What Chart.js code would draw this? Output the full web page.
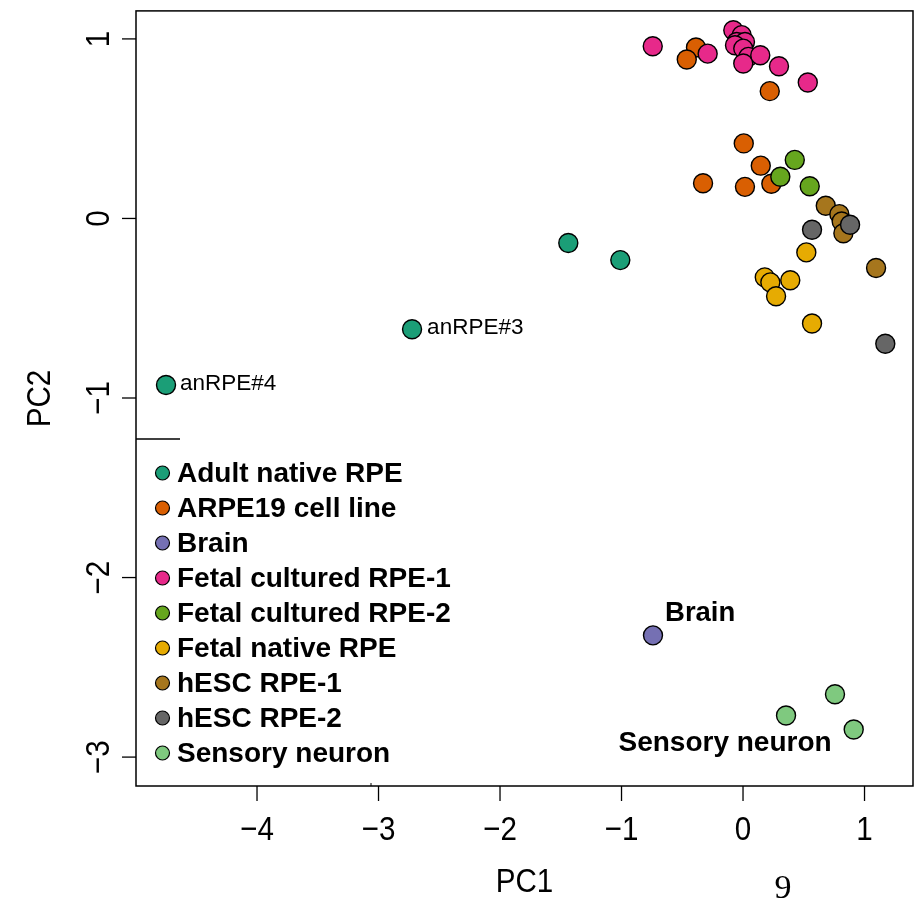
<!DOCTYPE html>
<html>
<head>
<meta charset="utf-8">
<script src="https://cdn.jsdelivr.net/npm/chart.js@4.4.1/dist/chart.umd.min.js"></script>
<style>
  html, body { margin: 0; padding: 0; background: #ffffff; }
  #wrap { width: 924px; height: 913px; }
</style>
</head>
<body>
<div id="wrap"><canvas id="c" width="924" height="913"></canvas></div>
<script>
// ---------- data ----------
const groupNames = ['Adult native RPE', 'ARPE19 cell line', 'Brain', 'Fetal cultured RPE-1',
  'Fetal cultured RPE-2', 'Fetal native RPE', 'hESC RPE-1', 'hESC RPE-2', 'Sensory neuron'];

const adultPC1 = [-1.438, -1.010, -2.724, -4.749];
const adultPC2 = [-0.137, -0.232, -0.617, -0.928];

const arpePC1 = [-0.387, -0.463, 0.220, 0.006, 0.146, -0.329, 0.016, 0.233];
const arpePC2 = [0.952, 0.885, 0.709, 0.418, 0.294, 0.196, 0.176, 0.193];

const brainPC1 = [-0.741];
const brainPC2 = [-2.322];

const fetalCult1PC1 = [-0.743, -0.291, -0.080, -0.011, -0.052, 0.016, -0.066, 0.002, 0.044, 0.002, 0.142, 0.296, 0.533];
const fetalCult1PC2 = [0.959, 0.918, 1.048, 1.021, 0.983, 0.983, 0.965, 0.946, 0.900, 0.863, 0.909, 0.848, 0.757];

const fetalCult2PC1 = [0.426, 0.307, 0.549];
const fetalCult2PC2 = [0.326, 0.232, 0.179];

const fetalNativePC1 = [0.521, 0.179, 0.225, 0.389, 0.272, 0.568];
const fetalNativePC2 = [-0.189, -0.328, -0.356, -0.344, -0.433, -0.585];

const hesc1PC1 = [0.681, 0.793, 0.812, 0.826, 1.095];
const hesc1PC2 = [0.071, 0.024, -0.017, -0.082, -0.276];

const hesc2PC1 = [0.568, 0.881, 1.171];
const hesc2PC2 = [-0.063, -0.035, -0.698];

const sensoryPC1 = [0.757, 0.354, 0.911];
const sensoryPC2 = [-2.650, -2.768, -2.846];

const xTicks = [-4, -3, -2, -1, 0, 1];
const yTicks = [1, 0, -1, -2, -3];

// point annotations (text, anchor in data units)
const noteText = ['anRPE#3', 'anRPE#4', 'Brain', 'Sensory neuron'];
const notePC1 = [-2.60, -4.634, -0.642, -0.148];
const notePC2 = [-0.611, -0.922, -2.20, -2.922];

// ---------- styles ----------
const groupColors = ['#1B9E77', '#D95F02', '#7570B3', '#E7298A', '#66A61E', '#E6AB02', '#A6761D', '#666666', '#7FC97F'];
const noteStyle = [
  { font: '22.5px "Liberation Sans", Arial, sans-serif', align: 'left' },
  { font: '22.5px "Liberation Sans", Arial, sans-serif', align: 'left' },
  { font: 'bold 27.5px "Liberation Sans", Arial, sans-serif', align: 'left' },
  { font: 'bold 28px "Liberation Sans", Arial, sans-serif', align: 'center' }
];

const xs = [adultPC1, arpePC1, brainPC1, fetalCult1PC1, fetalCult2PC1, fetalNativePC1, hesc1PC1, hesc2PC1, sensoryPC1];
const ys = [adultPC2, arpePC2, brainPC2, fetalCult1PC2, fetalCult2PC2, fetalNativePC2, hesc1PC2, hesc2PC2, sensoryPC2];

const datasets = groupNames.map((name, i) => ({
  label: name,
  data: xs[i].map((x, j) => ({ x: x, y: ys[i][j] })),
  backgroundColor: groupColors[i],
  borderColor: '#000000',
  borderWidth: 1.4,
  pointRadius: 9.5,
  pointHoverRadius: 9.5,
  order: -i
}));

const MINUS = '\u2212';
const fmt = v => (v < 0 ? MINUS + Math.abs(v) : String(v));
const AXIS_FONT = '34px "Liberation Sans", Arial, sans-serif';
const SQUEEZE = 0.87;

function narrowText(ctx, t, x, y, rot) {
  ctx.save();
  ctx.translate(x, y);
  if (rot) ctx.rotate(rot);
  ctx.scale(SQUEEZE, 1);
  ctx.fillText(t, 0, 0);
  ctx.restore();
}

const decor = {
  id: 'decor',
  afterDraw(chart) {
    const ctx = chart.ctx;
    const sx = chart.scales.x, sy = chart.scales.y;
    const a = chart.chartArea;
    ctx.save();
    ctx.strokeStyle = '#000';
    ctx.fillStyle = '#000';
    ctx.lineWidth = 1.5;
    // frame
    ctx.strokeRect(a.left, a.top, a.right - a.left, a.bottom - a.top);
    // small artefact mark on bottom frame
    ctx.lineWidth = 1;
    ctx.beginPath(); ctx.moveTo(371, a.bottom); ctx.lineTo(371, a.bottom - 3); ctx.stroke();
    // legend remnant line
    ctx.lineWidth = 1.3;
    ctx.beginPath(); ctx.moveTo(a.left, 439); ctx.lineTo(180, 439); ctx.stroke();

    // x axis
    ctx.lineWidth = 1.3;
    ctx.font = AXIS_FONT;
    ctx.textAlign = 'center';
    ctx.textBaseline = 'middle';
    xTicks.forEach(v => {
      const px = sx.getPixelForValue(v);
      ctx.beginPath(); ctx.moveTo(px, a.bottom); ctx.lineTo(px, a.bottom + 15); ctx.stroke();
      narrowText(ctx, fmt(v), px, a.bottom + 45, 0);
    });
    narrowText(ctx, 'PC1', (a.left + a.right) / 2, 883, 0);

    // y axis
    yTicks.forEach(v => {
      const py = sy.getPixelForValue(v);
      ctx.beginPath(); ctx.moveTo(a.left - 14, py); ctx.lineTo(a.left, py); ctx.stroke();
      narrowText(ctx, fmt(v), a.left - 36, py, -Math.PI / 2);
    });
    narrowText(ctx, 'PC2', 41, (a.top + a.bottom) / 2, -Math.PI / 2);

    // annotations
    noteText.forEach((t, i) => {
      ctx.font = noteStyle[i].font;
      ctx.textAlign = noteStyle[i].align;
      ctx.fillText(t, sx.getPixelForValue(notePC1[i]), sy.getPixelForValue(notePC2[i]));
    });

    // legend
    ctx.font = 'bold 28px "Liberation Sans", Arial, sans-serif';
    ctx.textAlign = 'left';
    chart.data.datasets.forEach((ds, i) => {
      const cy = 473 + i * 35;
      ctx.beginPath();
      ctx.arc(162.5, cy, 7, 0, Math.PI * 2);
      ctx.fillStyle = ds.backgroundColor;
      ctx.fill();
      ctx.lineWidth = 1.2;
      ctx.strokeStyle = '#000';
      ctx.stroke();
      ctx.fillStyle = '#000';
      ctx.fillText(ds.label, 177, cy + 1);
    });

    // page number
    ctx.font = '34px "Liberation Serif", "Times New Roman", serif';
    ctx.textAlign = 'center';
    ctx.fillText('9', 783, 889);
    ctx.restore();
  }
};

new Chart(document.getElementById('c'), {
  type: 'scatter',
  data: { datasets: datasets },
  options: {
    responsive: false,
    animation: false,
    devicePixelRatio: 1,
    layout: { padding: { left: 136, top: 9, right: 11, bottom: 127 } },
    scales: {
      x: { type: 'linear', display: false, min: -4.996, max: 1.399 },
      y: { type: 'linear', display: false, min: -3.161, max: 1.156 }
    },
    plugins: {
      legend: { display: false },
      tooltip: { enabled: false }
    }
  },
  plugins: [decor]
});
</script>
</body>
</html>
